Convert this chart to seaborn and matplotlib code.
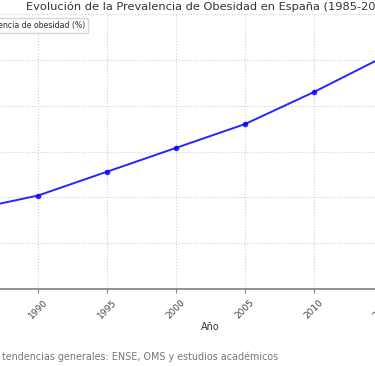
import numpy as np
import pandas as pd
import matplotlib
matplotlib.use("Agg")
import matplotlib.pyplot as plt
import seaborn as sns

# Datos (valores estimados a partir de la imagen)
years = [1985, 1990, 1995, 2000, 2005, 2010, 2015, 2020]
obesity = [8.6, 10.2, 12.8, 15.4, 18.0, 21.5, 25.3, 28.6]
series_label = "Prevalencia de obesidad (%)"
title = "Evolución de la Prevalencia de Obesidad en España (1985-2020)"
note = "Fuente: Datos estimados basados en tendencias generales: ENSE, OMS y estudios académicos"

df = pd.DataFrame({"Año": years, "Prevalencia": obesity})

sns.set_style("whitegrid")
plt.rcParams['font.family'] = ['DejaVu Sans']

fig = plt.figure(figsize=(3.75, 3.66), dpi=100)
# the original chart is wider than the visible frame
ax = fig.add_axes([-0.1471, 0.2104, 1.4168, 0.751])

sns.lineplot(data=df, x="Año", y="Prevalencia", marker="o", color="blue",
             linewidth=1.4, markersize=4, markeredgewidth=0, alpha=0.85,
             label=series_label, ax=ax)

ax.set_xticks(years)
ax.set_ylim(0, 30)
ax.set_yticks(np.arange(0, 31, 5))
ax.grid(True, linestyle=":", color="#d0d0d0", linewidth=0.8)
for s in ["top", "right", "left"]:
    ax.spines[s].set_visible(False)
ax.spines["bottom"].set_color("#808080")
ax.spines["bottom"].set_linewidth(1.2)
ax.tick_params(axis="x", bottom=True, length=3, color="#808080",
               labelsize=6.5, labelcolor="#444444", rotation=45)

ax.set_title(title, fontsize=8.2, color="#333333", pad=3)
ax.set_xlabel("Año", fontsize=7, color="#333333", labelpad=1)
ax.set_ylabel(series_label, fontsize=7)
ax.legend(loc="upper left", fontsize=5.6, frameon=True)

fig.text(278 / 375, 1 - 357 / 366, note, ha="right", va="center",
         fontsize=6.9, color="#777777")

fig.savefig("out.png", dpi=100)
